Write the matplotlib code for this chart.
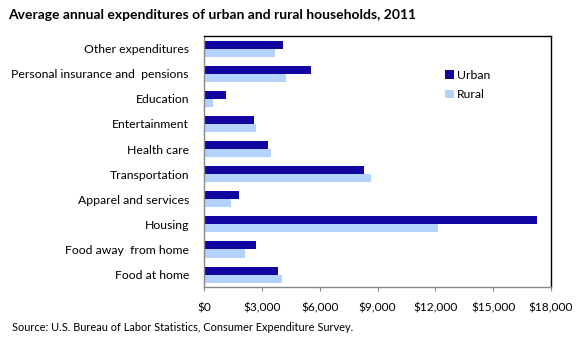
import matplotlib
matplotlib.use("Agg")
import matplotlib.pyplot as plt
import numpy as np

plt.rcParams['font.family'] = ['Lato', 'DejaVu Sans']

categories = ["Food at home", "Food away  from home", "Housing", "Apparel and services",
              "Transportation", "Health care", "Entertainment", "Education",
              "Personal insurance and  pensions", "Other expenditures"]
urban = [3825, 2680, 17265, 1800, 8290, 3310, 2580, 1125, 5540, 4085]
rural = [4030, 2110, 12125, 1385, 8650, 3460, 2680, 450, 4240, 3670]
xticks = [0, 3000, 6000, 9000, 12000, 15000, 18000]
xticklabels = ["$0", "$3,000", "$6,000", "$9,000", "$12,000", "$15,000", "$18,000"]

urban_color = "#10069F"
rural_color = "#B3D3FC"

fig = plt.figure(figsize=(5.8, 3.41), dpi=100)
ax = fig.add_axes([0.352, 0.158, 0.598, 0.736])

y = np.arange(len(categories))
h = 0.32
ax.barh(y + h/2, urban, height=h, color=urban_color, label="Urban")
ax.barh(y - h/2, rural, height=h, color=rural_color, label="Rural")

ax.set_xlim(0, 18000)
ax.set_ylim(-0.5, len(categories) - 0.5)
ax.set_xticks(xticks)
ax.set_xticklabels(xticklabels)
ax.set_yticks(y)
ax.set_yticklabels(categories)

for s in ['top', 'right']:
    ax.spines[s].set_color('black')
    ax.spines[s].set_linewidth(1.0)
for s in ['left', 'bottom']:
    ax.spines[s].set_color('#888888')
    ax.spines[s].set_linewidth(1.0)

ax.tick_params(axis='x', direction='out', length=3, color='#888888', labelsize=8.6, pad=8)
ax.tick_params(axis='y', length=0, labelsize=8.8, pad=11)

leg = ax.legend(loc='upper left', bbox_to_anchor=(0.68, 0.885), frameon=False,
                borderaxespad=0, fontsize=8.8, handlelength=0.72, handleheight=0.72,
                handletextpad=0.25, labelspacing=0.68)

fig.text(0.014, 0.955, "Average annual expenditures of urban and rural households, 2011",
         fontsize=10.0, fontweight='bold', ha='left', va='center')
fig.text(0.02, 0.04, "Source: U.S. Bureau of Labor Statistics, Consumer Expenditure Survey.",
         fontsize=7.9, ha='left', va='center')

fig.savefig("out.png", dpi=100)
